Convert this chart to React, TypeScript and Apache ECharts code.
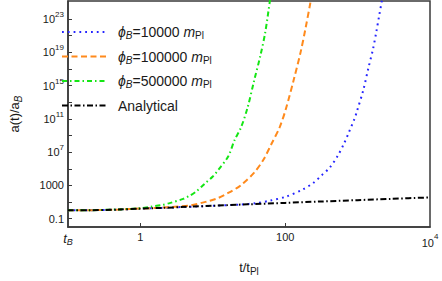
import React, { useEffect, useRef } from 'react';
import * as echarts from 'echarts';

// ---- data (t in units of t_Pl, a in units of a_B) ----
const analyticalT = [0.1, 0.2, 0.5, 1, 2, 5, 10, 30, 100, 300, 1000, 3000, 10000];
const analyticalA = [1.0, 1.05, 1.25, 1.62, 2.0, 2.8, 3.6, 5.3, 7.9, 11.5, 17, 24.5, 36];

const phi1T = [0.1, 0.2, 0.5, 1, 2, 5, 10, 24.6, 40, 62, 103, 172, 246, 318, 410, 530, 650, 759, 903, 978, 1202, 1403, 1633, 1807, 1995, 2154, 2350];
const phi1A = [1.0, 1.05, 1.25, 1.62, 2.0, 2.8, 3.6, 5.1, 7.5, 15, 45, 300, 2.1e3, 1.6e4, 1.3e5, 3.5e6, 1.1e8, 2.5e9, 9.5e10, 8e11, 3.2e14, 1.1e17, 2.5e19, 2.5e21, 3.2e23, 1.3e25, 1e27];

const phi2T = [0.1, 0.2, 0.5, 1, 2, 3, 5, 7, 9, 12, 16.3, 22, 25, 37, 50, 65, 84, 103, 133, 163, 190, 222, 245];
const phi2A = [1.0, 1.05, 1.25, 1.65, 2.15, 2.7, 4.0, 8, 14, 32, 125, 550, 1.25e3, 3.2e4, 1.2e6, 1.1e8, 1e10, 2e12, 8e15, 1e19, 6.3e21, 8e24, 1e27];

const phi3T = [0.1, 0.2, 0.5, 1, 1.4, 2, 2.6, 3.9, 4.8, 5.9, 7.1, 8, 10, 12, 16.3, 20, 24.6, 30.2, 37, 45.4, 53, 61.7, 66];
const phi3A = [1.0, 1.05, 1.3, 1.8, 2.8, 4.5, 8, 24, 58, 190, 800, 2.1e3, 1.2e4, 8e4, 3e6, 2.8e8, 1e10, 2.2e12, 3.2e15, 4e18, 2.5e21, 2e25, 1e27];

const seriesNames = ['phi10000', 'phi100000', 'phi500000', 'Analytical'];
const phiLabels = ['10000', '100000', '500000'];

const xLabelValues = [0.1, 1, 100, 10000];
const xTickValues = [1, 100];
const yLabelValues = [0.1, 1000, 1e7, 1e11, 1e15, 1e19, 1e23];
const yTickValues = [0.1, 10, 1000, 1e5, 1e7, 1e9, 1e11, 1e13, 1e15, 1e17, 1e19, 1e21, 1e23];

const FONT = '"Liberation Sans", Arial, Helvetica, sans-serif';
const TXT = '#1a1a1a';
const AX = '#3a3a3a';

const pairs = (t: number[], a: number[]) => t.map((x, i) => [x, a[i]]);

export default function App() {
  const ref = useRef<HTMLDivElement>(null);
  useEffect(() => {
    const chart = echarts.init(ref.current!, null, { renderer: 'svg' });
    const option: any = {
      animation: false,
      backgroundColor: '#ffffff',
      textStyle: { fontFamily: FONT },
      grid: {
        left: 54,
        right: 12,
        top: 1,
        bottom: 49,
        show: true,
        borderColor: AX,
        borderWidth: 1.5,
      },
      legend: {
        orient: 'vertical',
        left: 61,
        top: 25,
        padding: 0,
        itemWidth: 45,
        itemHeight: 16,
        itemGap: 9,
        data: seriesNames,
        itemStyle: { opacity: 0 },
        formatter: (name: string) => {
          const i = seriesNames.indexOf(name);
          if (i < 3) {
            return `{phi|ϕ}{sb|B}{eq|=${phiLabels[i]} }{m|m}{sr|Pl}`;
          }
          return '{an|Analytical}';
        },
        textStyle: {
          fontFamily: FONT,
          fontSize: 14,
          color: TXT,
          rich: {
            phi: { fontFamily: FONT, fontSize: 14, fontStyle: 'italic', color: TXT, padding: [0, 0, 0, 6] },
            sb: { fontFamily: FONT, fontSize: 10, fontStyle: 'italic', color: TXT, padding: [7, 0, 0, 0] },
            eq: { fontFamily: FONT, fontSize: 14, color: TXT },
            m: { fontFamily: FONT, fontSize: 14, fontStyle: 'italic', color: TXT },
            sr: { fontFamily: FONT, fontSize: 10, color: TXT, padding: [7, 0, 0, 0] },
            an: { fontFamily: FONT, fontSize: 14, color: TXT, padding: [0, 0, 0, 6] },
          },
        },
      },
      xAxis: {
        type: 'log',
        logBase: 10,
        min: 0.1,
        max: 10000,
        name: '{n|t/t}{s|Pl}',
        nameLocation: 'middle',
        nameGap: 32,
        nameTextStyle: {
          rich: {
            n: { fontFamily: FONT, fontSize: 13, color: TXT },
            s: { fontFamily: FONT, fontSize: 10, color: TXT, padding: [7, 0, 0, 0] },
          },
        },
        axisLine: { show: true, lineStyle: { color: AX, width: 1.5 } },
        axisTick: { show: true, inside: true, length: 4, customValues: xTickValues, lineStyle: { color: AX, width: 1 } },
        minorTick: { show: false },
        splitLine: { show: false },
        axisLabel: {
          customValues: xLabelValues,
          margin: 4,
          color: TXT,
          fontSize: 11,
          fontFamily: FONT,
          formatter: (v: number) => {
            const e = Math.round(Math.log10(v));
            if (e === -1) return '{it|t}{its|B}';
            if (e === 0) return '{n|1}';
            if (e === 2) return '{n|100}';
            return `{nl|10}{sup|${e}}`;
          },
          rich: {
            n: { fontFamily: FONT, fontSize: 11, color: TXT },
            nl: { fontFamily: FONT, fontSize: 11, color: TXT, padding: [6, 0, 0, 0] },
            it: { fontFamily: FONT, fontSize: 13, fontStyle: 'italic', color: TXT },
            its: { fontFamily: FONT, fontSize: 9, fontStyle: 'italic', color: TXT, padding: [6, 0, 0, 0] },
            sup: { fontFamily: FONT, fontSize: 8, color: TXT, padding: [0, 0, 6, 0] },
          },
        },
      },
      yAxis: {
        type: 'log',
        logBase: 10,
        min: 0.01,
        max: 1.5e25,
        name: '{n|a(t)/a}{s|B}',
        nameLocation: 'middle',
        nameGap: 45,
        nameRotate: 90,
        nameTextStyle: {
          rich: {
            n: { fontFamily: FONT, fontSize: 13, color: TXT },
            s: { fontFamily: FONT, fontSize: 10, fontStyle: 'italic', color: TXT, padding: [7, 0, 0, 0] },
          },
        },
        axisLine: { show: true, lineStyle: { color: AX, width: 1.5 } },
        axisTick: { show: true, inside: true, length: 4, customValues: yTickValues, lineStyle: { color: AX, width: 1 } },
        minorTick: { show: false },
        splitLine: { show: false },
        axisLabel: {
          customValues: yLabelValues,
          margin: 4,
          color: TXT,
          fontSize: 11,
          fontFamily: FONT,
          formatter: (v: number) => {
            const e = Math.round(Math.log10(v));
            if (e === -1) return '{n|0.1}';
            if (e === 3) return '{n|1000}';
            return `{n|10}{sup|${e}}`;
          },
          rich: {
            n: { fontFamily: FONT, fontSize: 11, color: TXT },
            sup: { fontFamily: FONT, fontSize: 8, color: TXT, padding: [0, 0, 9, 0] },
          },
        },
      },
      series: [
        {
          name: seriesNames[0],
          type: 'line',
          data: pairs(phi1T, phi1A),
          showSymbol: false,
          symbol: 'none',
          smooth: 0.3,
          clip: true,
          lineStyle: { color: '#2424ff', width: 2, type: [1.8, 4], cap: 'butt' },
          itemStyle: { color: '#2424ff' },
        },
        {
          name: seriesNames[1],
          type: 'line',
          data: pairs(phi2T, phi2A),
          showSymbol: false,
          symbol: 'none',
          smooth: 0.3,
          clip: true,
          lineStyle: { color: '#ff8a1c', width: 2, type: [6, 3.5] },
          itemStyle: { color: '#ff8a1c' },
        },
        {
          name: seriesNames[2],
          type: 'line',
          data: pairs(phi3T, phi3A),
          showSymbol: false,
          symbol: 'none',
          smooth: 0.3,
          clip: true,
          lineStyle: { color: '#14e614', width: 2, type: [5, 3, 1.5, 3] },
          itemStyle: { color: '#14e614' },
        },
        {
          name: seriesNames[3],
          type: 'line',
          data: pairs(analyticalT, analyticalA),
          showSymbol: false,
          symbol: 'none',
          smooth: 0.3,
          clip: true,
          lineStyle: { color: '#000000', width: 2, type: [6, 2.5, 1.5, 2.5] },
          itemStyle: { color: '#000000' },
        },
      ],
    };
    chart.setOption(option);
    return () => chart.dispose();
  }, []);
  return (
    <div
      ref={ref}
      style={{ position: 'absolute', left: 0, top: 0, width: 442, height: 281 }}
    />
  );
}
